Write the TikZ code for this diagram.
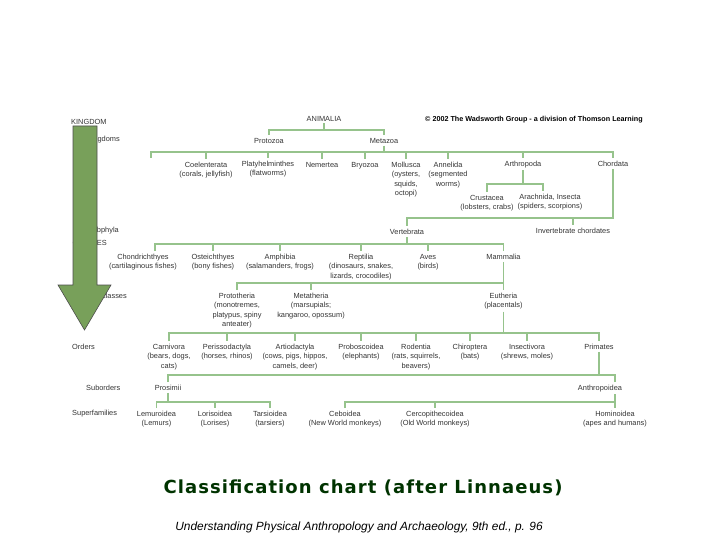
\documentclass[tikz,border=0pt]{standalone}
\usepackage{fontspec}
\setmainfont{Liberation Sans}
\newfontfamily\titlefont[LetterSpace=6]{DejaVu Sans}
\usepackage{xcolor}
\definecolor{linkgreen}{RGB}{150,195,140}
\definecolor{arrowgreen}{RGB}{120,160,90}
\definecolor{titlegreen}{RGB}{0,51,0}
\newcommand{\chartfont}{\fontsize{7.4}{9.3}\selectfont}

\begin{document}
\begin{tikzpicture}[x=1pt, y=-1pt,
  taxon/.style={font=\chartfont, text=black!80, align=center, inner sep=0pt, anchor=north},
  rank/.style={font=\chartfont, text=black!80, inner sep=0pt},
  link/.style={draw=linkgreen, line width=1.3pt},
  tick/.style={link, shorten >=3pt}]
\useasboundingbox (0,0) rectangle (720,540);

% rank labels, partly under the arrow
\node[rank, anchor=west] (kingdom) at (71,122) {KINGDOM};
\node[rank, anchor=east] (subking) at (120,140) {Subkingdoms};
\node[rank, anchor=east] (subphyla) at (119,231) {Subphyla};
\node[rank, anchor=east] (classes) at (107,243) {CLASSES};
\node[rank, anchor=east] (subclass) at (127,296) {Subclasses};
\node[rank, anchor=west] (orders) at (72,347) {Orders};
\node[rank, anchor=west] (suborders) at (86,388) {Suborders};
\node[rank, anchor=west] (superfam) at (72,414) {Superfamilies};

\draw[draw=black!70, fill=arrowgreen, line width=0.6pt]
  (73,126) -- (97,126) -- (97,285) -- (111,285) -- (84.5,330) -- (58,285) -- (73,285) -- cycle;

\node[font=\bfseries\fontsize{7.2}{8.6}\selectfont, anchor=west, inner sep=0pt] (copy) at (425,120)
  {\textcopyright\ 2002 The Wadsworth Group - a division of Thomson Learning};

\node[taxon] (animalia) at (324,116) {ANIMALIA};
\node[taxon] (protozoa) at (269,138) {Protozoa};
\node[taxon] (metazoa) at (384,138) {Metazoa};

\node[taxon] (coel) at (206,162) {Coelenterata\\(corals, jellyfish)};
\node[taxon] (platy) at (268,161) {Platyhelminthes\\(flatworms)};
\node[taxon] (nemer) at (322,162) {Nemertea};
\node[taxon] (bryo) at (365,162) {Bryozoa};
\node[taxon] (mollu) at (406,162) {Mollusca\\(oysters,\\squids,\\octopi)};
\node[taxon] (anneli) at (448,162) {Annelida\\(segmented\\worms)};
\node[taxon] (arthro) at (523,161) {Arthropoda};
\node[taxon] (chorda) at (613,161) {Chordata};

\node[taxon] (crust) at (487,195) {Crustacea\\(lobsters, crabs)};
\node[taxon] (arach) at (550,194) {Arachnida, Insecta\\(spiders, scorpions)};
\node[taxon] (verteb) at (407,229) {Vertebrata};
\node[taxon] (invert) at (573,228) {Invertebrate chordates};

\node[taxon] (chond) at (143,254) {Chondrichthyes\\(cartilaginous fishes)};
\node[taxon] (oste) at (213,254) {Osteichthyes\\(bony fishes)};
\node[taxon] (amphi) at (280,254) {Amphibia\\(salamanders, frogs)};
\node[taxon] (repti) at (361,254) {Reptilia\\(dinosaurs, snakes,\\lizards, crocodiles)};
\node[taxon] (aves) at (428,254) {Aves\\(birds)};
\node[taxon] (mamma) at (503.5,254) {Mammalia};

\node[taxon] (proto) at (237,293) {Prototheria\\(monotremes,\\platypus, spiny\\anteater)};
\node[taxon] (meta) at (311,293) {Metatheria\\(marsupials;\\kangaroo, opossum)};
\node[taxon] (euth) at (503.5,293) {Eutheria\\(placentals)};

\node[taxon] (carni) at (169,344) {Carnivora\\(bears, dogs,\\cats)};
\node[taxon] (peris) at (227,344) {Perissodactyla\\(horses, rhinos)};
\node[taxon] (artio) at (295,344) {Artiodactyla\\(cows, pigs, hippos,\\camels, deer)};
\node[taxon] (probo) at (361,344) {Proboscoidea\\(elephants)};
\node[taxon] (roden) at (416,344) {Rodentia\\(rats, squirrels,\\beavers)};
\node[taxon] (chiro) at (470,344) {Chiroptera\\(bats)};
\node[taxon] (insect) at (527,344) {Insectivora\\(shrews, moles)};
\node[taxon] (prima) at (599,344) {Primates};

\node[taxon] (prosi) at (168,385) {Prosimii};
\node[taxon] (anthro) at (600,385) {Anthropoidea};

\node[taxon] (lemur) at (156.5,411) {Lemuroidea\\(Lemurs)};
\node[taxon] (loris) at (215,411) {Lorisoidea\\(Lorises)};
\node[taxon] (tarsi) at (270,411) {Tarsioidea\\(tarsiers)};
\node[taxon] (cebo) at (345,411) {Ceboidea\\(New World monkeys)};
\node[taxon] (cerco) at (435,411) {Cercopithecoidea\\(Old World monkeys)};
\node[taxon] (homi) at (615,411) {Hominoidea\\(apes and humans)};

\coordinate (lvA) at (0,130);
\coordinate (lvB) at (0,152);
\coordinate (lvC) at (0,184);
\coordinate (lvD) at (0,218);
\coordinate (lvE) at (0,244);
\coordinate (lvF) at (0,283);
\coordinate (lvG) at (0,333);
\coordinate (lvH) at (0,375);
\coordinate (lvI) at (0,402);
\coordinate (phystub) at (151,158);
\coordinate (arachtop) at ([xshift=-7pt]arach.north);
\coordinate (chondtop) at ([xshift=12pt]chond.north);
\coordinate (anthtop) at ([xshift=15pt]anthro.north);
\coordinate (anthbot) at ([xshift=15pt]anthro.south);

\draw[link, shorten <=2pt] (animalia.south) -- (animalia.south |- lvA);
\draw[link, shorten <=3pt, shorten >=3pt] (protozoa.north) |- (metazoa.north |- lvA) -- (metazoa.north);

\draw[link, shorten <=2pt] (metazoa.south) -- (metazoa.south |- lvB);
\draw[link, shorten >=3pt] (phystub) |- (chorda.north |- lvB) -- (chorda.north);
\foreach \n in {coel,platy,nemer,bryo,mollu,anneli,arthro}
  \draw[tick] (\n.north |- lvB) -- (\n.north);

\draw[link, shorten <=2pt] (arthro.south) -- (arthro.south |- lvC);
\draw[link, shorten <=3pt, shorten >=3pt] (crust.north) |- (arachtop |- lvC) -- (arachtop);

\draw[link, shorten <=2pt, shorten >=3pt] (chorda.south) |- (verteb.north |- lvD) -- (verteb.north);
\draw[tick] (invert.north |- lvD) -- (invert.north);

\draw[link, shorten <=2pt] (verteb.south) -- (verteb.south |- lvE);
\draw[link, shorten <=3pt, shorten >=3pt] (chondtop) |- (mamma.north |- lvE) -- (mamma.north);
\foreach \n in {oste,amphi,repti,aves}
  \draw[tick] (\n.north |- lvE) -- (\n.north);

\draw[link, shorten <=2pt, shorten >=3pt] (mamma.south) -- (euth.north);
\draw[link, shorten <=3pt] (proto.north) |- (euth.north |- lvF);
\draw[tick] (meta.north |- lvF) -- (meta.north);

\draw[link, shorten <=2pt] (euth.south) -- (euth.south |- lvG);
\draw[link, shorten <=3pt, shorten >=3pt] (carni.north) |- (prima.north |- lvG) -- (prima.north);
\foreach \n in {peris,artio,probo,roden,chiro,insect}
  \draw[tick] (\n.north |- lvG) -- (\n.north);

\draw[link, shorten <=2pt] (prima.south) -- (prima.south |- lvH);
\draw[link, shorten <=3pt, shorten >=3pt] (prosi.north) |- (anthtop |- lvH) -- (anthtop);

\draw[link, shorten <=2pt] (prosi.south) -- (prosi.south |- lvI);
\draw[link, shorten <=3pt, shorten >=3pt] (lemur.north) |- (tarsi.north |- lvI) -- (tarsi.north);
\draw[tick] (loris.north |- lvI) -- (loris.north);

\draw[link, shorten <=2pt] (anthbot) -- (anthbot |- lvI);
\draw[link, shorten <=3pt, shorten >=3pt] (cebo.north) |- (homi.north |- lvI) -- (homi.north);
\draw[tick] (cerco.north |- lvI) -- (cerco.north);

\node[font=\titlefont\bfseries\fontsize{18}{21}\selectfont, text=titlegreen] (title) at (363,488)
  {Classification chart (after Linnaeus)};
\node[font=\itshape\fontsize{11.9}{14}\selectfont] (source) at (359,527)
  {Understanding Physical Anthropology and Archaeology, 9th ed., p. 96};
\end{tikzpicture}
\end{document}
